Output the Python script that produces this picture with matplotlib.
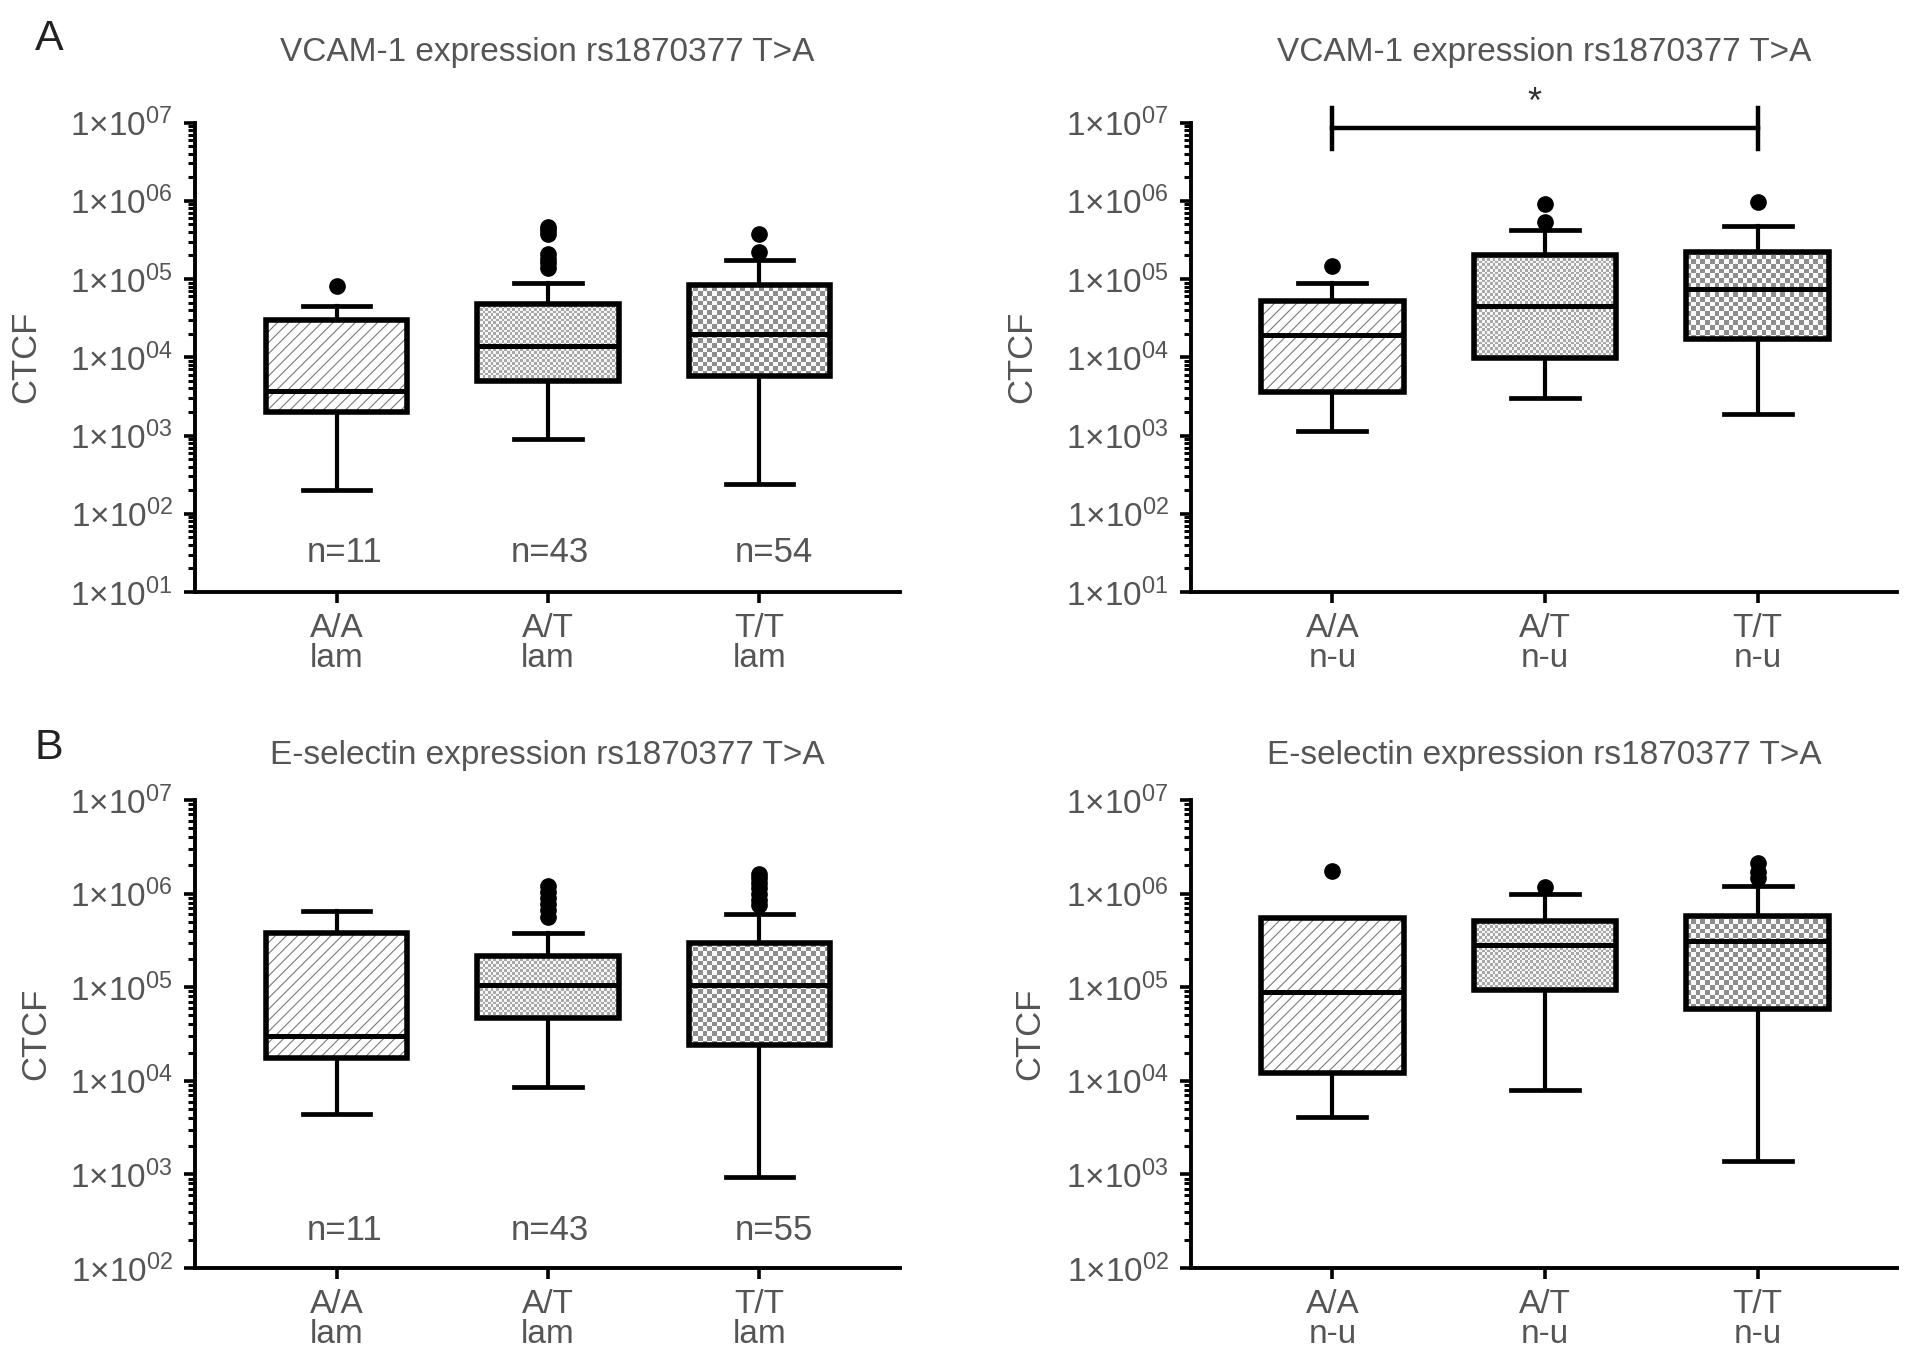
import numpy as np
import matplotlib
matplotlib.use("Agg")
import matplotlib.pyplot as plt
from matplotlib.patches import PathPatch
from matplotlib.colors import ListedColormap
from matplotlib.ticker import LogLocator, FixedLocator, FuncFormatter, NullFormatter

plt.rcParams['font.family'] = ['Liberation Sans', 'DejaVu Sans']
plt.rcParams['mathtext.fontset'] = 'custom'
plt.rcParams['mathtext.rm'] = 'Liberation Sans'
plt.rcParams['mathtext.default'] = 'regular'
plt.rcParams['hatch.linewidth'] = 0.8

TXT = '#555555'

# ---- data ----
genotypes = ['A/A', 'A/T', 'T/T']
groups = ['lam', 'n-u']

# panel A, laminar
a_lam_whislo = [2.0e2, 9.0e2, 2.4e2]
a_lam_q1 = [2.0e3, 5.0e3, 5.8e3]
a_lam_med = [3.7e3, 1.4e4, 2.0e4]
a_lam_q3 = [3.0e4, 4.8e4, 8.5e4]
a_lam_whishi = [4.5e4, 8.8e4, 1.75e5]
a_lam_fliers = [[8.2e4],
                [4.6e5, 4.2e5, 3.8e5, 2.1e5, 1.8e5, 1.6e5, 1.4e5],
                [3.8e5, 2.2e5]]
a_lam_n = ['n=11', 'n=43', 'n=54']

# panel A, non-uniform
a_nu_whislo = [1.15e3, 3.0e3, 1.9e3]
a_nu_q1 = [3.6e3, 9.8e3, 1.7e4]
a_nu_med = [1.95e4, 4.5e4, 7.5e4]
a_nu_q3 = [5.3e4, 2.0e5, 2.2e5]
a_nu_whishi = [9.0e4, 4.2e5, 4.8e5]
a_nu_fliers = [[1.45e5], [9.1e5, 5.4e5], [9.7e5]]

# panel B, laminar
b_lam_whislo = [4.4e3, 8.5e3, 9.3e2]
b_lam_q1 = [1.75e4, 4.7e4, 2.4e4]
b_lam_med = [3.0e4, 1.05e5, 1.05e5]
b_lam_q3 = [3.8e5, 2.15e5, 3.0e5]
b_lam_whishi = [6.5e5, 3.8e5, 6.0e5]
b_lam_fliers = [[],
                [1.2e6, 1.05e6, 9.0e5, 7.8e5, 6.6e5, 5.6e5],
                [1.6e6, 1.45e6, 1.3e6, 1.15e6, 1.0e6, 8.5e5, 7.5e5]]
b_lam_n = ['n=11', 'n=43', 'n=55']

# panel B, non-uniform
b_nu_whislo = [4.1e3, 8.0e3, 1.4e3]
b_nu_q1 = [1.2e4, 9.3e4, 5.9e4]
b_nu_med = [8.8e4, 2.8e5, 3.1e5]
b_nu_q3 = [5.5e5, 5.1e5, 5.8e5]
b_nu_whishi = [5.5e5, 1.0e6, 1.22e6]
b_nu_fliers = [[1.75e6], [1.18e6], [2.1e6, 1.7e6, 1.45e6]]

sig_y = 8.4e6

titles = ['VCAM-1 expression rs1870377 T>A', 'VCAM-1 expression rs1870377 T>A',
          'E-selectin expression rs1870377 T>A', 'E-selectin expression rs1870377 T>A']


def make_stats(wlo, q1, med, q3, whi, fl):
    return [dict(whislo=wlo[i], q1=q1[i], med=med[i], q3=q3[i], whishi=whi[i],
                 fliers=fl[i]) for i in range(len(med))]


panels = [
    (make_stats(a_lam_whislo, a_lam_q1, a_lam_med, a_lam_q3, a_lam_whishi, a_lam_fliers), 'lam', a_lam_n),
    (make_stats(a_nu_whislo, a_nu_q1, a_nu_med, a_nu_q3, a_nu_whishi, a_nu_fliers), 'n-u', None),
    (make_stats(b_lam_whislo, b_lam_q1, b_lam_med, b_lam_q3, b_lam_whishi, b_lam_fliers), 'lam', b_lam_n),
    (make_stats(b_nu_whislo, b_nu_q1, b_nu_med, b_nu_q3, b_nu_whishi, b_nu_fliers), 'n-u', None),
]

W, H = 1913, 1358
fig = plt.figure(figsize=(W / 100, H / 100), dpi=100)

rects = [
    (195 / W, 1 - 592 / H, 705 / W, 469.5 / H),
    (1191 / W, 1 - 592 / H, 706 / W, 469.5 / H),
    (195 / W, 1 - 1268 / H, 705 / W, 468 / H),
    (1191 / W, 1 - 1268 / H, 706 / W, 468 / H),
]
ylims = [(1e1, 1e7), (1e1, 1e7), (1e2, 1e7), (1e2, 1e7)]
xlims = [(0.33, 3.665), (0.335, 3.656), (0.33, 3.665), (0.335, 3.656)]
label_x = [-0.217, -0.217, -0.203, -0.205]
title_pad = [44, 44, 26, 26]
n_dx = [0.04, 0.01, 0.07]

positions = [1, 2, 3]
checker_px = [None, 2.7, 4.7]
checker_cols = [None, ['#f6f6f6', '#a8a8a8'], ['#fafafa', '#8e8e8e']]


def fmt(v, pos):
    e = int(round(np.log10(v)))
    return '1\u00d710$^{%02d}$' % e


for k, (stats, grp, nlab) in enumerate(panels):
    ax = fig.add_axes(rects[k])
    ax.set_yscale('log')
    ax.set_ylim(*ylims[k])
    ax.set_xlim(*xlims[k])

    res = ax.bxp(stats, positions=positions, widths=0.67, capwidths=0.32,
                 patch_artist=True, manage_ticks=False,
                 boxprops=dict(facecolor='none', edgecolor='black', linewidth=4.0, zorder=3),
                 medianprops=dict(color='black', linewidth=3.6, zorder=4),
                 whiskerprops=dict(color='black', linewidth=3.0),
                 capprops=dict(color='black', linewidth=3.4),
                 flierprops=dict(marker='o', markerfacecolor='black', markeredgecolor='black',
                                 markersize=11, linestyle='none'))

    for i, box in enumerate(res['boxes']):
        path = box.get_path()
        if i == 0:
            hp = PathPatch(path, facecolor='white', edgecolor='#7a7a7a', linewidth=0,
                           hatch='///', zorder=2)
            ax.add_patch(hp)
        else:
            verts = path.vertices
            x0, x1 = verts[:, 0].min(), verts[:, 0].max()
            y0, y1 = verts[:, 1].min(), verts[:, 1].max()
            p0 = ax.transData.transform((x0, y0))
            p1 = ax.transData.transform((x1, y1))
            c = checker_px[i]
            xs = np.arange(p0[0], p1[0] + c, c)
            ys = np.arange(p0[1], p1[1] + c, c)
            inv = ax.transData.inverted()
            xe = inv.transform(np.column_stack([xs, np.full_like(xs, p0[1])]))[:, 0]
            ye = inv.transform(np.column_stack([np.full_like(ys, p0[0]), ys]))[:, 1]
            C = (np.add.outer(np.arange(len(ye) - 1), np.arange(len(xe) - 1)) % 2)
            mesh = ax.pcolormesh(xe, ye, C, cmap=ListedColormap(checker_cols[i]),
                                 vmin=0, vmax=1, shading='flat', antialiased=False,
                                 edgecolors='none', zorder=2)
            clip = PathPatch(path, transform=ax.transData, facecolor='none', edgecolor='none')
            mesh.set_clip_path(clip)

    # axes styling
    for s in ['top', 'right']:
        ax.spines[s].set_visible(False)
    for s in ['left', 'bottom']:
        ax.spines[s].set_linewidth(2.8)
    ax.yaxis.set_major_locator(LogLocator(base=10, numticks=20))
    ax.yaxis.set_minor_locator(LogLocator(base=10, subs=np.arange(2, 10), numticks=20))
    ax.yaxis.set_major_formatter(FuncFormatter(fmt))
    ax.yaxis.set_minor_formatter(NullFormatter())
    ax.tick_params(axis='y', which='major', length=8, width=2.6, labelsize=24,
                   labelcolor=TXT, pad=8)
    ax.tick_params(axis='y', which='minor', length=5, width=2.2)
    ax.xaxis.set_major_locator(FixedLocator(positions))
    ax.set_xticklabels(['%s\n%s' % (g, grp) for g in genotypes])
    ax.tick_params(axis='x', which='major', length=8, width=2.6, labelsize=24,
                   labelcolor=TXT, pad=7)
    ax.tick_params(axis='x', which='minor', length=0)
    for t in ax.get_xticklabels():
        t.set_linespacing(0.95)

    ax.set_ylabel('CTCF', fontsize=25, color=TXT)
    ax.yaxis.set_label_coords(label_x[k], 0.5)
    ax.set_title(titles[k], fontsize=24, color=TXT, pad=title_pad[k])

    if nlab is not None:
        ny = 32 if k == 0 else 250
        for i, lab in enumerate(nlab):
            ax.text(positions[i] + n_dx[i], ny, lab, fontsize=25, color=TXT,
                    ha='center', va='center')

    if k == 1:
        ax.plot([positions[0], positions[2]], [sig_y, sig_y], color='black', lw=3.2, clip_on=False)
        for p in (positions[0], positions[2]):
            ax.plot([p, p], [sig_y / 1.82, sig_y * 1.82], color='black', lw=3.2, clip_on=False)
        ax.text(1.95, sig_y * 2.1, '*', fontsize=26, color='#333333',
                ha='center', va='center')

fig.text(35 / W, 1 - 50 / H, 'A', fontsize=31, color='#222222')
fig.text(35 / W, 1 - 759 / H, 'B', fontsize=31, color='#222222')

fig.savefig('out.png', dpi=100)
